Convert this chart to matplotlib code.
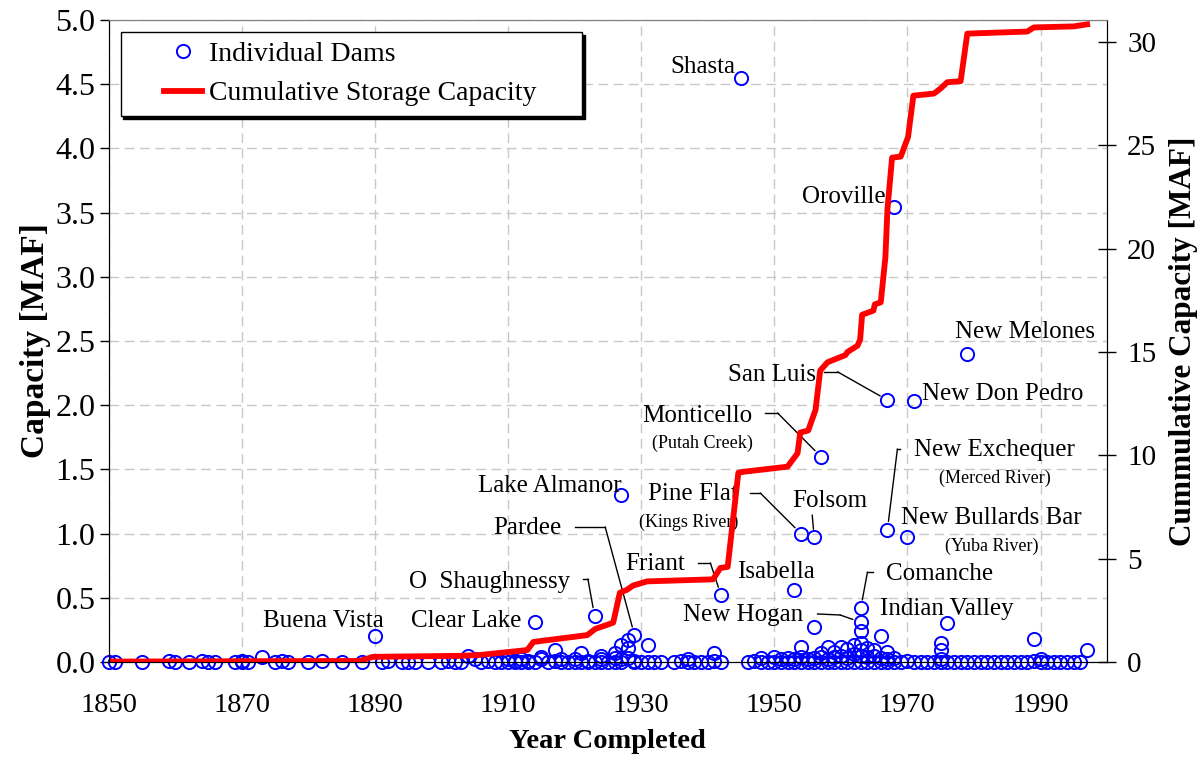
import matplotlib
matplotlib.use("Agg")
import matplotlib.pyplot as plt
from matplotlib.lines import Line2D
from matplotlib.legend_handler import HandlerLine2D

plt.rcParams['font.family'] = ['Liberation Serif', 'DejaVu Serif']

# named dams (year completed, capacity in MAF)
dam_names = ["Shasta", "Oroville", "New Melones", "San Luis", "New Don Pedro",
             "Monticello", "Lake Almanor", "Pine Flat", "Folsom", "New Exchequer",
             "New Bullards Bar", "Friant", "Isabella", "O  Shaughnessy", "Clear Lake",
             "Buena Vista", "Pardee", "New Hogan", "Comanche", "Indian Valley"]
dam_years = [1945, 1968, 1979, 1967, 1971,
             1957, 1927, 1954, 1956, 1967,
             1970, 1942, 1953, 1923, 1914,
             1890, 1929, 1963, 1963, 1976]
dam_caps = [4.55, 3.54, 2.40, 2.04, 2.03,
            1.60, 1.30, 1.00, 0.97, 1.03,
            0.97, 0.52, 0.56, 0.36, 0.31,
            0.20, 0.21, 0.31, 0.42, 0.30]

# other small dams that stand off the axis
minor_years = [1873, 1904, 1915, 1917, 1921, 1924, 1926, 1927, 1928, 1928,
               1931, 1941, 1954, 1956, 1957, 1958, 1959, 1960, 1961, 1962,
               1963, 1963, 1963, 1964, 1965, 1966, 1967, 1975, 1975, 1989,
               1997]
minor_caps = [0.04, 0.05, 0.04, 0.09, 0.07, 0.05, 0.07, 0.13, 0.11, 0.17,
              0.13, 0.07, 0.12, 0.27, 0.07, 0.12, 0.08, 0.12, 0.10, 0.13,
              0.24, 0.15, 0.09, 0.11, 0.09, 0.20, 0.08, 0.15, 0.09, 0.18,
              0.09]

# tiny dams sitting on the axis
small_years = [1850, 1851, 1855, 1859, 1860, 1862, 1864, 1865, 1866, 1869, 1870, 1870, 1871, 1875, 1876, 1877, 1880, 1882, 1885, 1888,
               1891, 1892, 1894, 1895, 1896, 1898, 1900, 1901, 1902, 1903, 1905, 1906, 1907, 1908, 1909,
               1910, 1910, 1911, 1911, 1912, 1912, 1913, 1913, 1914, 1915, 1916, 1917, 1918, 1918, 1919,
               1920, 1920, 1921, 1922, 1922, 1923, 1924, 1924, 1925, 1926, 1926, 1927, 1927, 1928, 1929, 1929,
               1930, 1931, 1932, 1933, 1935, 1936, 1937, 1937, 1938, 1939, 1940, 1941, 1942,
               1946, 1947, 1948, 1948, 1949, 1950, 1950, 1951, 1951, 1952, 1952, 1953, 1953, 1954, 1954, 1955, 1955, 1956, 1956, 1957, 1957, 1958, 1958, 1959, 1959,
               1960, 1960, 1961, 1961, 1962, 1962, 1963, 1963, 1964, 1964, 1965, 1965, 1966, 1966, 1967, 1967, 1968, 1968, 1969,
               1970, 1971, 1972, 1973, 1974, 1975, 1975, 1976, 1977, 1978, 1979,
               1980, 1981, 1982, 1983, 1984, 1985, 1986, 1987, 1988, 1989, 1990, 1990, 1991, 1992, 1993, 1994, 1995, 1996]
small_caps = [0.0, 0.0, 0.0, 0.01, 0.0, 0.0, 0.01, 0.0, 0.0, 0.0, 0.01, 0.0, 0.0, 0.0, 0.01, 0.0, 0.0, 0.01, 0.0, 0.0,
              0.0, 0.01, 0.0, 0.0, 0.0, 0.0, 0.0, 0.01, 0.0, 0.0, 0.02, 0.0, 0.01, 0.0, 0.0,
              0.0, 0.02, 0.01, 0.0, 0.02, 0.0, 0.01, 0.0, 0.0, 0.02, 0.0, 0.01, 0.02, 0.0, 0.0,
              0.0, 0.02, 0.0, 0.01, 0.0, 0.0, 0.02, 0.0, 0.0, 0.03, 0.0, 0.02, 0.0, 0.03, 0.0, 0.01,
              0.0, 0.0, 0.0, 0.0, 0.0, 0.01, 0.0, 0.02, 0.0, 0.0, 0.0, 0.01, 0.0,
              0.0, 0.01, 0.0, 0.03, 0.0, 0.0, 0.04, 0.0, 0.02, 0.0, 0.03, 0.0, 0.02, 0.0, 0.04, 0.0, 0.02, 0.0, 0.03, 0.0, 0.04, 0.0, 0.02, 0.0, 0.04,
              0.0, 0.05, 0.0, 0.03, 0.0, 0.06, 0.0, 0.05, 0.0, 0.04, 0.0, 0.05, 0.0, 0.03, 0.0, 0.02, 0.0, 0.03, 0.0,
              0.01, 0.0, 0.0, 0.0, 0.0, 0.0, 0.02, 0.0, 0.0, 0.0, 0.0,
              0.0, 0.0, 0.0, 0.0, 0.0, 0.0, 0.0, 0.0, 0.0, 0.01, 0.0, 0.02, 0.0, 0.0, 0.0, 0.0, 0.0, 0.0]

# cumulative storage capacity (MAF), right axis
cum_years = [1850, 1887.7, 1889.7, 1903, 1905.8, 1912.9, 1913.8, 1921.9, 1923.1, 1925.8,
             1926.8, 1927.9, 1928.8, 1930.9, 1940.8, 1941.9, 1943.0, 1944.6, 1945.3, 1948.0,
             1952.0, 1953.5, 1953.9, 1955.1, 1956.2, 1956.9, 1958.0, 1960.7, 1961.0, 1962.5,
             1962.9, 1963.2, 1964.9, 1965.1, 1966.0, 1966.7, 1967.0, 1967.7, 1969.0, 1970.1,
             1970.9, 1974.0, 1975.0, 1976.0, 1978.0, 1979.0, 1988.0, 1989.0, 1995.0, 1997.0]
cum_caps = [0.02, 0.05, 0.25, 0.3, 0.34, 0.58, 0.97, 1.3, 1.6, 1.9,
            3.35, 3.5, 3.7, 3.9, 4.0, 4.55, 4.6, 9.15, 9.2, 9.3,
            9.45, 10.1, 11.1, 11.2, 12.2, 14.1, 14.5, 14.85, 15.0, 15.3,
            15.6, 16.8, 17.0, 17.3, 17.4, 19.6, 21.9, 24.4, 24.45, 25.4,
            27.4, 27.5, 27.75, 28.05, 28.1, 30.4, 30.5, 30.7, 30.75, 30.85]

# label placement (text, x, y, size)
labels = [("Shasta", 1939.2, 4.63, 18), ("Oroville", 1960.5, 3.62, 18),
          ("New Melones", 1987.7, 2.57, 18), ("San Luis", 1949.7, 2.235, 18),
          ("New Don Pedro", 1984.3, 2.09, 18), ("Monticello", 1938.4, 1.916, 18),
          ("(Putah Creek)", 1939.2, 1.705, 13), ("New Exchequer", 1983.1, 1.65, 18),
          ("(Merced River)", 1983.1, 1.43, 13), ("Lake Almanor", 1916.3, 1.37, 18),
          ("Pine Flat", 1937.8, 1.31, 18), ("(Kings River)", 1937.1, 1.09, 13),
          ("Folsom", 1958.3, 1.25, 18), ("New Bullards Bar", 1982.6, 1.12, 18),
          ("(Yuba River)", 1982.6, 0.90, 13), ("Pardee", 1912.9, 1.04, 18),
          ("Friant", 1932.1, 0.76, 18), ("Isabella", 1950.3, 0.70, 18),
          ("O  Shaughnessy", 1907.3, 0.62, 18), ("Comanche", 1974.8, 0.685, 18),
          ("Clear Lake", 1903.7, 0.32, 18), ("Buena Vista", 1882.3, 0.32, 18),
          ("New Hogan", 1945.3, 0.366, 18), ("Indian Valley", 1975.9, 0.41, 18)]

# leader line elbows, ending at the dam point
leaders = {"Pardee": [(1920.1, 1.051), (1924.6, 1.051)],
           "O  Shaughnessy": [(1921.3, 0.646), (1922.0, 0.646)],
           "Friant": [(1938.6, 0.771), (1940.4, 0.771)],
           "Pine Flat": [(1946.4, 1.316), (1947.9, 1.316)],
           "Folsom": [(1955.7, 1.145)],
           "Monticello": [(1948.6, 1.939), (1950.5, 1.939)],
           "San Luis": [(1957.4, 2.26), (1959.5, 2.26)],
           "New Hogan": [(1956.5, 0.374), (1959.9, 0.366)],
           "Comanche": [(1964.9, 0.70), (1964.0, 0.70)],
           "New Exchequer": [(1968.9, 1.659), (1968.5, 1.659)]}

fig = plt.figure(figsize=(11.98, 7.57), dpi=100)
ax = fig.add_axes([0.0907, 0.1255, 0.8334, 0.8481])
ax2 = ax.twinx()

mk = dict(ls='none', marker='o', mfc='none', mec='blue', ms=9.5, mew=1.4, clip_on=False)
ax.plot(small_years, small_caps, **mk)
ax.plot(minor_years, minor_caps, **mk)
dams, = ax.plot(dam_years, dam_caps, **mk)

cum, = ax2.plot(cum_years, cum_caps, color='red', lw=4.2)

ax.set_xlim(1850, 2000)
ax.set_ylim(0, 5)
ax2.set_ylim(0, 31.06)

ax.set_xticks(range(1850, 2000, 20))
ax.set_yticks([i * 0.5 for i in range(11)])
ax.set_yticklabels(['%.1f' % (i * 0.5) for i in range(11)])
ax2.set_yticks(range(0, 35, 5))

ax.grid(True, color='#c8c8c8', linestyle=(0, (7, 4)), linewidth=1)
ax.set_axisbelow(True)

ax.tick_params(axis='x', length=0, pad=22, labelsize=20.5)
ax.tick_params(axis='y', direction='out', length=6.5, width=1, pad=3, labelsize=23)
ax2.tick_params(axis='y', direction='inout', length=13, width=1, pad=8, labelsize=21)

for a in (ax, ax2):
    a.spines['top'].set_color('#808080')
    a.spines['left'].set_color('black')
    a.spines['right'].set_color('black')
    a.spines['bottom'].set_color('black')

ax.set_xlabel('Year Completed', fontsize=20.5, fontweight='bold', labelpad=8)
ax.set_ylabel('Capacity [MAF]', fontsize=24, fontweight='bold', labelpad=3)
ax2.set_ylabel('Cummulative Capacity [MAF]', fontsize=22.5, fontweight='bold', labelpad=9)

for txt, x, y, fs in labels:
    ax.text(x, y, txt, fontsize=fs, ha='center', va='center')

for name, pts in leaders.items():
    i = dam_names.index(name)
    if len(pts) > 1:
        ax.plot([p[0] for p in pts], [p[1] for p in pts], color='black', lw=1)
    ax.annotate('', xy=(dam_years[i], dam_caps[i]), xytext=pts[-1],
                arrowprops=dict(arrowstyle='-', color='black', lw=1, shrinkA=0, shrinkB=6))

leg = ax2.legend([dams, cum], ['Individual Dams', 'Cumulative Storage Capacity'],
                 loc='upper left', bbox_to_anchor=(0.0119, 0.5, 0.4623, 0.4813),
                 mode='expand', borderaxespad=0,
                 fontsize=20, fancybox=False, framealpha=1,
                 shadow={'color': 'black', 'alpha': 1},
                 borderpad=0.35, handlelength=2.6, handletextpad=0.23, labelspacing=0.5,
                 numpoints=1, handler_map={Line2D: HandlerLine2D(xpad=1.22)})
leg.get_frame().set_edgecolor('black')
leg.get_frame().set_linewidth(1)

fig.savefig('out.png', dpi=100)
